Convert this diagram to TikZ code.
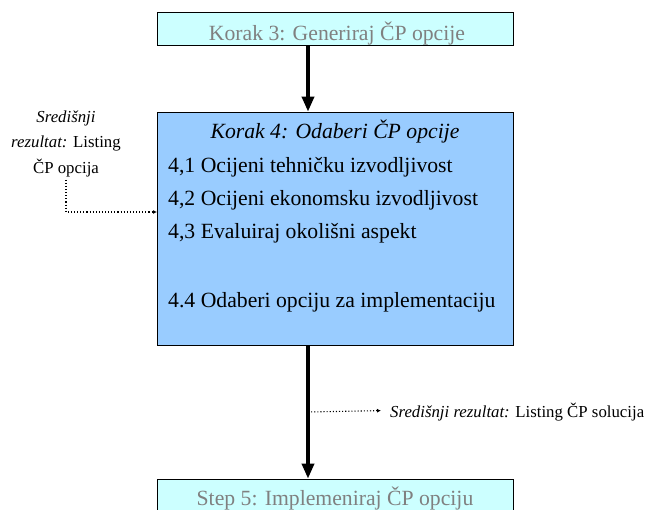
\documentclass[tikz,border=0pt]{standalone}
\usepackage{fontspec}
\setmainfont{Liberation Serif}
\usetikzlibrary{arrows.meta,calc}

\definecolor{stepcyan}{HTML}{CCFFFF}
\definecolor{stepblue}{HTML}{99CCFF}
\definecolor{stepgray}{HTML}{808080}

\begin{document}
\begin{tikzpicture}
	[x=1pt,y=-1pt,
	stepbox/.style={draw,thick,minimum width=356pt,inner sep=0pt},
	bigtext/.style={font=\fontsize{21.7}{25}\selectfont,inner sep=0pt},
	smalltext/.style={font=\fontsize{16.8}{25.5}\selectfont,inner sep=0pt},
	flow/.style={line width=3.5pt,-{Triangle[length=15pt,width=12pt]}},
	result/.style={dotted,line width=1.1pt,-{Latex[length=4pt,width=4pt]}}]
	\useasboundingbox (0,0) rectangle (648,509);
	
	% boxes
	\node[stepbox,fill=stepcyan,minimum height=33pt] (k3) at (335,28.5) {};
	\node[stepbox,fill=stepblue,minimum height=233pt] (k4) at (335,228.5) {};
	\node[stepbox,fill=stepcyan,minimum height=33pt] (k5) at (335,495.5) {};
	
	% texts in boxes
	\node[bigtext,text=stepgray,anchor=base] (k3t) at (337,40) {Korak 3: Generiraj ČP opcije};
	\node[bigtext,anchor=base] (k4t) at (335,138) {\textit{Korak 4: Odaberi ČP opcije}};
	\node[bigtext,anchor=base west] (k41) at (168,172) {4,1 Ocijeni tehničku izvodljivost};
	\node[bigtext,anchor=base west] (k42) at (168,205) {4,2 Ocijeni ekonomsku izvodljivost};
	\node[bigtext,anchor=base west] (k43) at (168,238) {4,3 Evaluiraj okolišni aspekt};
	\node[bigtext,anchor=base west] (k44) at (168,307) {4.4 Odaberi opciju za implementaciju};
	\node[bigtext,text=stepgray,anchor=base] (k5t) at (335,505) {Step 5: Implemeniraj ČP opciju};
	
	% intermediate results
	\node[smalltext,align=center,anchor=base] (inres) at (66,173)
		{\textit{Središnji}\\\textit{rezultat:} Listing\\ČP opcija};
	\node[smalltext,anchor=base west] (outres) at (390,417)
		{\textit{Središnji rezultat:} Listing ČP solucija};
	\coordinate (intip) at (157,212);
	\coordinate (outtap) at (308,412);
	
	\draw[flow] (k3.south -| outtap) -- (k4.north -| outtap);
	\draw[flow] (k4.south -| outtap) -- (k5.north -| outtap);
	\draw[result] (inres.south) ++(0,3) |- (intip);
	\draw[result] (outtap) -- ($(outres.west)+(-9,-1)$);
\end{tikzpicture}
\end{document}
